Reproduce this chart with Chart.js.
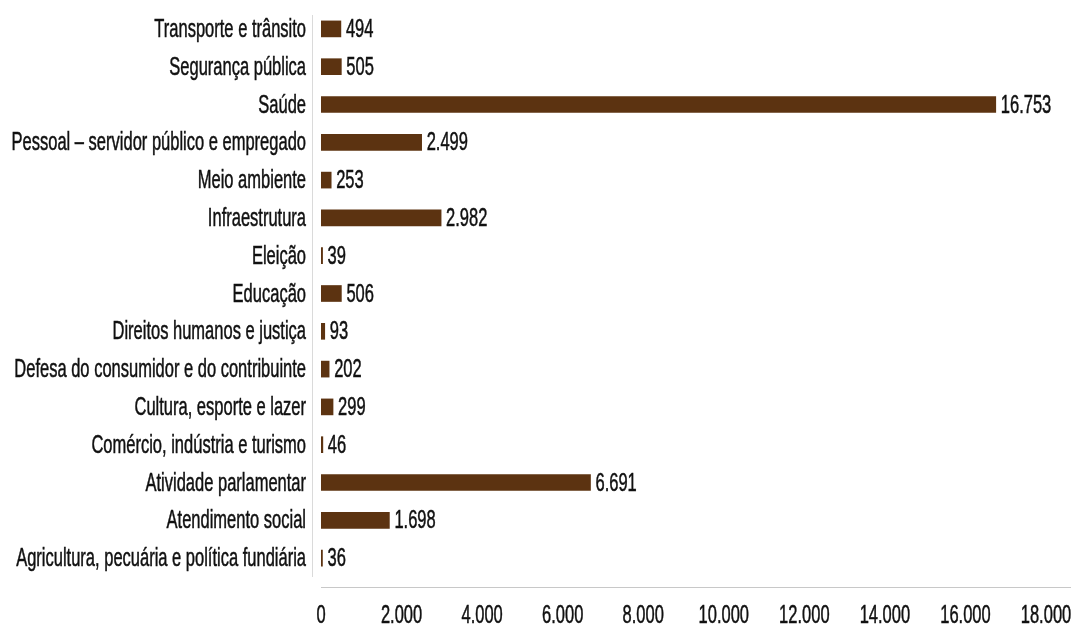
<!DOCTYPE html>
<html lang="pt-BR">
<head>
<meta charset="utf-8">
<title>Demandas por tema</title>
<script src="https://cdn.jsdelivr.net/npm/chart.js"></script>
<style>
    html, body { margin: 0; padding: 0; background: #fff; }
    .grafico-wrap { position: relative; width: 1071px; height: 626px; }
</style>
</head>
<body>
<div class="grafico-wrap">
    <canvas id="grafico-temas"></canvas>
</div>
<script>
// dados (de cima para baixo)
const categorias = [
    "Transporte e trânsito",
    "Segurança pública",
    "Saúde",
    "Pessoal – servidor público e empregado",
    "Meio ambiente",
    "Infraestrutura",
    "Eleição",
    "Educação",
    "Direitos humanos e justiça",
    "Defesa do consumidor e do contribuinte",
    "Cultura, esporte e lazer",
    "Comércio, indústria e turismo",
    "Atividade parlamentar",
    "Atendimento social",
    "Agricultura, pecuária e política fundiária"
];
const valores = [494, 505, 16753, 2499, 253, 2982, 39, 506, 93, 202, 299, 46, 6691, 1698, 36];
const ticksEixo = [0, 2000, 4000, 6000, 8000, 10000, 12000, 14000, 16000, 18000];

// fonte condensada nao existe aqui: Liberation Sans comprimida na horizontal
const FONTE = '25px "Liberation Sans", Arial, sans-serif';
const ESCALA_X = 0.66;
const COR_BARRA = '#5c3311';
const COR_TEXTO = '#111';

function formatar(n) {
    return String(n).replace(/\B(?=(\d{3})+(?!\d))/g, '.');
}

function texto(ctx, str, x, y, align) {
    ctx.save();
    ctx.translate(x, y);
    ctx.scale(ESCALA_X, 1);
    ctx.textAlign = align;
    ctx.textBaseline = 'alphabetic';
    ctx.fillText(str, 0, 0);
    // traço fino para dar o peso da fonte original
    ctx.strokeText(str, 0, 0);
    ctx.restore();
}

// linhas dos eixos, rotulos das categorias, dos ticks e dos valores
const pluginTextos = {
    id: 'textos',
    afterDatasetsDraw(chart) {
        const ctx = chart.ctx;
        const area = chart.chartArea;
        const sx = chart.scales.x;
        const sy = chart.scales.y;

        ctx.save();
        ctx.lineWidth = 1;
        ctx.strokeStyle = '#dadada';
        ctx.beginPath();
        ctx.moveTo(area.left - 8.5, area.top + 5);
        ctx.lineTo(area.left - 8.5, area.bottom);
        ctx.stroke();
        ctx.strokeStyle = '#c8c8c8';
        ctx.beginPath();
        ctx.moveTo(area.left, area.bottom + 10.5);
        ctx.lineTo(chart.width, area.bottom + 10.5);
        ctx.stroke();

        ctx.fillStyle = COR_TEXTO;
        ctx.strokeStyle = COR_TEXTO;
        ctx.lineWidth = 0.5;
        ctx.font = FONTE;

        categorias.forEach((cat, i) => {
            texto(ctx, cat, area.left - 15, sy.getPixelForValue(i) + 8, 'right');
        });

        chart.getDatasetMeta(0).data.forEach((bar, i) => {
            texto(ctx, formatar(valores[i]), bar.x + 5, bar.y + 8, 'left');
        });

        ticksEixo.forEach(v => {
            texto(ctx, formatar(v), sx.getPixelForValue(v), area.bottom + 46, 'center');
        });
        ctx.restore();
    }
};

new Chart(document.getElementById('grafico-temas'), {
    type: 'bar',
    data: {
        labels: categorias,
        datasets: [{
            data: valores,
            backgroundColor: COR_BARRA,
            barThickness: 16
        }]
    },
    options: {
        indexAxis: 'y',
        responsive: true,
        maintainAspectRatio: false,
        animation: false,
        layout: { padding: { top: 10, right: 25, left: 0, bottom: 0 } },
        scales: {
            x: {
                min: 0,
                max: 18000,
                afterFit(scale) { scale.height = 49; },
                grid: { display: false },
                border: { display: false },
                ticks: { display: false, stepSize: 2000 }
            },
            y: {
                afterFit(scale) { scale.width = 321; },
                grid: { display: false },
                border: { display: false },
                ticks: { display: false }
            }
        },
        plugins: {
            legend: { display: false },
            tooltip: { enabled: false }
        }
    },
    plugins: [pluginTextos]
});
</script>
</body>
</html>
